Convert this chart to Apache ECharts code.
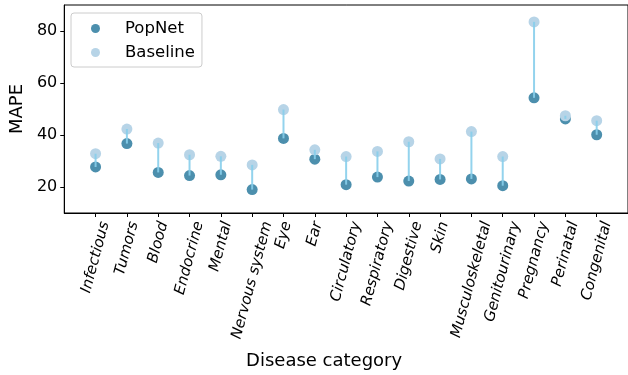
<!DOCTYPE html>
<html>
<head>
<meta charset="utf-8">
<script src="https://cdn.jsdelivr.net/npm/echarts@6/dist/echarts.min.js"></script>
<style>html,body{margin:0;padding:0;background:#fff;}#c{width:628px;height:375px;}</style>
</head>
<body>
<div id="c"></div>
<script>
const categories = ['Infectious','Tumors','Blood','Endocrine','Mental','Nervous system','Eye','Ear','Circulatory','Respiratory','Digestive','Skin','Musculoskeletal','Genitourinary','Pregnancy','Perinatal','Congenital'];
const popnet = [27.7,36.7,25.6,24.4,24.7,19.0,38.7,30.7,20.9,23.8,22.3,22.9,23.1,20.5,54.3,46.2,40.1];
const baseline = [32.8,42.3,36.9,32.4,31.8,28.5,49.8,34.3,31.7,33.7,37.4,30.8,41.3,31.7,83.5,47.4,45.5];
const yTicks = [20,40,60,80];
const seriesNames = ['PopNet','Baseline'];

const FONT = "'DejaVu Sans', sans-serif";
const yMin = 10, yMax = 90;
const labelFontSize = 15;
const rot = 75 * Math.PI / 180;

const ctx = document.createElement('canvas').getContext('2d');
function textWidth(s) {
  ctx.font = 'italic ' + labelFontSize + 'px ' + FONT;
  return ctx.measureText(s).width;
}

const chart = echarts.init(document.getElementById('c'), null, {renderer: 'canvas'});
const idx = categories.map((c, i) => i);

chart.setOption({
  animation: false,
  backgroundColor: '#fff',
  textStyle: {fontFamily: FONT},
  grid: {left: 62, top: 5, right: -6, bottom: 162, show: true, borderColor: '#000', borderWidth: 1, containLabel: false},
  xAxis: {
    type: 'value', min: -1, max: 17,
    name: 'Disease category', nameLocation: 'middle', nameGap: 139,
    nameTextStyle: {fontSize: 18, color: '#000', fontFamily: FONT, padding: [0, 44, 0, 0]},
    axisLine: {show: true, onZero: false, lineStyle: {color: '#000', width: 1}},
    axisTick: {show: true, length: 4, lineStyle: {color: '#000'}, customValues: idx},
    axisLabel: {show: false, customValues: idx},
    splitLine: {show: false}
  },
  yAxis: {
    type: 'value', min: yMin, max: yMax,
    name: 'MAPE', nameLocation: 'middle', nameGap: 34,
    nameTextStyle: {fontSize: 18, color: '#000', fontFamily: FONT},
    axisLine: {show: true, onZero: false, lineStyle: {color: '#000', width: 1}},
    axisTick: {show: true, length: 4, lineStyle: {color: '#000'}, customValues: yTicks},
    axisLabel: {show: true, customValues: yTicks, fontSize: 16, color: '#000', margin: 7, fontFamily: FONT},
    splitLine: {show: false}
  },
  legend: {
    data: seriesNames, orient: 'vertical', left: 71, top: 13,
    itemWidth: 9, itemHeight: 9, itemGap: 7, icon: 'circle',
    padding: [7, 7, 6, 20],
    backgroundColor: 'rgba(255,255,255,0.8)', borderColor: '#cccccc', borderWidth: 1, borderRadius: 3,
    textStyle: {fontSize: 16.5, color: '#000', fontFamily: FONT, padding: [0, 0, 0, 20]}
  },
  series: [
    {
      name: seriesNames[0], type: 'scatter', symbolSize: 11, z: 2,
      itemStyle: {color: '#4c8fad', opacity: 1},
      data: idx.map(i => [i, popnet[i]])
    },
    {
      name: seriesNames[1], type: 'scatter', symbolSize: 11, z: 2,
      itemStyle: {color: '#b7d4e7', opacity: 1},
      data: idx.map(i => [i, baseline[i]])
    },
    {
      name: 'links', type: 'custom', z: 3, silent: true,
      data: idx.map(i => [i, baseline[i], popnet[i]]),
      encode: {x: 0, y: [1, 2]},
      renderItem: function (params, api) {
        const a = api.coord([api.value(0), api.value(1)]);
        const b = api.coord([api.value(0), api.value(2)]);
        return {type: 'line', shape: {x1: a[0], y1: a[1], x2: b[0], y2: b[1]},
          style: {stroke: '#87ceeb', lineWidth: 2, opacity: 0.9}};
      }
    },
    {
      name: 'ticklabels', type: 'custom', z: 3, silent: true, clip: false,
      data: idx.map(i => [i, yMin]),
      renderItem: function (params, api) {
        const i = api.value(0);
        const p = api.coord([i, yMin]);
        const s = categories[i];
        const w = textWidth(s);
        const h = labelFontSize;
        return {
          type: 'text',
          x: p[0] + w * Math.cos(rot) / 2,
          y: p[1] + 7 + h / 2 * Math.cos(rot),
          rotation: rot,
          style: {text: s, fontSize: labelFontSize, fontStyle: 'italic', fontFamily: FONT,
            fill: '#000', align: 'right', verticalAlign: 'middle'}
        };
      }
    }
  ]
});
</script>
</body>
</html>
